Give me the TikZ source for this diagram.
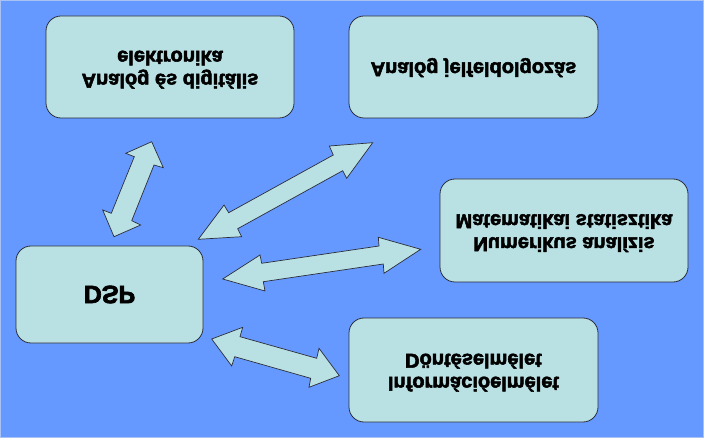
\documentclass[tikz,border=0pt]{standalone}
\usepackage{fontspec}
\setmainfont[BoldFeatures={FakeBold=2.6}]{Liberation Sans}
\definecolor{bg}{HTML}{6699FF}
\definecolor{boxfill}{HTML}{B9E0E3}
\definecolor{edge}{HTML}{2A2D3A}
\definecolor{rim}{HTML}{A8C2F4}
\newcommand{\flipped}[1]{\scalebox{1}[-1]{#1}}
\begin{document}
\begin{tikzpicture}[x=1pt,y=-1pt,
  topic/.style={draw=edge, fill=boxfill, rounded corners=15pt, line width=0.8pt,
    inner sep=0pt, font=\bfseries\fontsize{20}{23}\selectfont, align=center},
  blockarrow/.style={draw=edge, fill=boxfill, line width=0.7pt, line join=miter}]
  % background
  \fill[bg] (0,0) rectangle (704,438);
  \draw[rim, line width=1pt] (0.5,0.5) rectangle (703.5,437.5);
  \useasboundingbox (0,0) rectangle (704,438);

  % boxes
  \node[topic, minimum width=248pt, minimum height=102pt] (analog) at (170,67)
    {\flipped{\begin{tabular}{@{}c@{}}Analóg és digitális\\elektronika\end{tabular}}};
  \node[topic, minimum width=249pt, minimum height=102pt] (signal) at (473.5,67)
    {\flipped{\begin{tabular}{@{}c@{}}Analóg jelfeldolgozás\end{tabular}}};
  \node[topic, minimum width=248pt, minimum height=103pt] (numeric) at (564,230.5)
    {\flipped{\begin{tabular}{@{}c@{}}Numerikus analízis\\Matematikai statisztika\end{tabular}}};
  \node[topic, minimum width=249pt, minimum height=104pt] (info) at (473.5,370)
    {\flipped{\begin{tabular}{@{}c@{}}Információelmélet\\Döntéselmélet\end{tabular}}};
  \node[topic, minimum width=187pt, minimum height=97pt, font=\bfseries\fontsize{25}{30}\selectfont] (dsp) at (109.5,294.5)
    {\flipped{DSP}};

  % block arrows
  \draw[blockarrow] (151.7,141.7) -- (125.7,153.3) -- (134.3,156.7) -- (111.3,213.3)
    -- (102.7,210) -- (114,236.7) -- (140.7,225) -- (131.7,220.7) -- (154,165)
    -- (163.3,167.7) -- cycle;
  \draw[blockarrow] (372.7,142.7) -- (329.3,146) -- (333.3,155) -- (228.7,212.7)
    -- (224,205) -- (198.3,239.3) -- (241.7,236.7) -- (237.7,228.7) -- (342.7,170.7)
    -- (346.7,178.3) -- cycle;
  \draw[blockarrow] (420.7,249.3) -- (378.3,237.3) -- (379,246) -- (261.7,263.3)
    -- (260,255) -- (222.7,279) -- (265,291) -- (263.3,281.7) -- (383.3,264)
    -- (384,273.3) -- cycle;
  \draw[blockarrow] (211.7,339) -- (242.7,327.3) -- (240,336.7) -- (316.7,358.3)
    -- (319,348.3) -- (339.3,375.7) -- (309,387.3) -- (310.7,378.3) -- (234.7,356.7)
    -- (231.7,366) -- cycle;
\end{tikzpicture}
\end{document}
